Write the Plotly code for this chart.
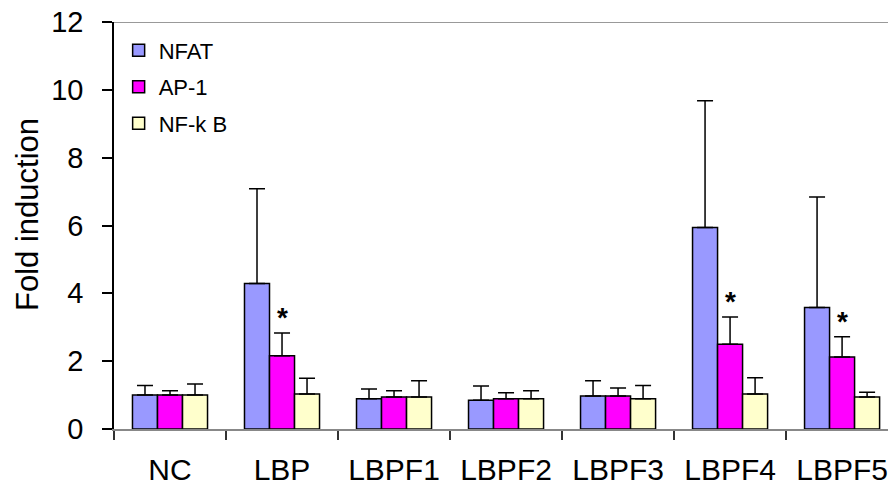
import plotly.graph_objects as go

categories = ["NC", "LBP", "LBPF1", "LBPF2", "LBPF3", "LBPF4", "LBPF5"]
nfat = [1.00, 4.29, 0.89, 0.85, 0.97, 5.94, 3.58]
nfat_err = [0.28, 2.79, 0.29, 0.42, 0.45, 3.74, 3.26]
ap1 = [1.00, 2.16, 0.94, 0.89, 0.97, 2.50, 2.12]
ap1_err = [0.13, 0.67, 0.19, 0.18, 0.24, 0.80, 0.60]
nfkb = [1.00, 1.03, 0.94, 0.89, 0.89, 1.03, 0.94]
nfkb_err = [0.33, 0.47, 0.48, 0.24, 0.39, 0.48, 0.14]
significant = ["LBP", "LBPF4", "LBPF5"]

FONT = "Liberation Sans, Arial, sans-serif"

fig = go.Figure()
series = [
    ("NFAT", nfat, nfat_err, "#9999FF"),
    ("AP-1", ap1, ap1_err, "#FF00FF"),
    ("NF-k B", nfkb, nfkb_err, "#FFFFCC"),
]
for i, (name, vals, errs, col) in enumerate(series):
    fig.add_trace(go.Bar(
        name=name, x=categories, y=vals,
        marker=dict(color=col, line=dict(color="black", width=1.5)),
        error_y=dict(type="data", array=errs, symmetric=False,
                     arrayminus=[0] * len(errs),
                     color="black", thickness=1.5, width=8),
        legendgroup=f"g{i}",
    ))

idx = {c: i for i, c in enumerate(categories)}
for c in significant:
    i = idx[c]
    fig.add_annotation(x=c, y=ap1[i] + ap1_err[i], text="<b>*</b>", showarrow=False,
                       xref="x", yref="y", yanchor="bottom", yshift=-2,
                       font=dict(family=FONT, size=28, color="black"))

fig.add_annotation(text="Fold induction", textangle=-90, showarrow=False,
                   xref="paper", yref="paper", x=(27 - 114) / 774, y=(429 - 215) / 407,
                   xanchor="center", yanchor="middle",
                   font=dict(family=FONT, size=31, color="black"))

fig.add_shape(type="line", xref="paper", yref="y", x0=0, x1=1, y0=12, y1=12,
              line=dict(color="#999999", width=2))

fig.update_layout(
    width=888, height=489,
    margin=dict(l=114, r=0, t=22, b=60),
    paper_bgcolor="white", plot_bgcolor="white",
    barmode="group", bargap=0.33, bargroupgap=0,
    font=dict(family=FONT, color="black"),
    showlegend=True,
    legend=dict(x=0.006, y=0.982, xanchor="left", yanchor="top",
                font=dict(family=FONT, size=22, color="black"),
                bgcolor="rgba(0,0,0,0)", tracegroupgap=5,
                itemwidth=30),
    xaxis=dict(range=[-0.5, 6.41], tickson="boundaries", ticks="outside",
               ticklen=9, tickcolor="#333333", tickwidth=1.5,
               showline=True, linecolor="#888888", linewidth=2,
               showgrid=False, tickfont=dict(family=FONT, size=30),
               ticklabelstandoff=13, automargin=False, fixedrange=True),
    yaxis=dict(range=[0, 12], dtick=2, ticks="outside", ticklen=10,
               tickcolor="black", tickwidth=1.5, showline=True,
               linecolor="black", linewidth=1.5, showgrid=False,
               zeroline=False, tickfont=dict(family=FONT, size=29),
               ticklabelstandoff=13, automargin=False),
)

fig.write_html("out.html")
